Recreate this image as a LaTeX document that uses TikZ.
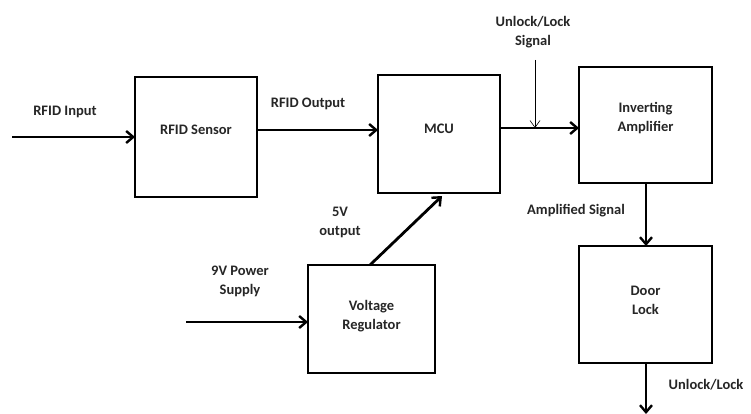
\documentclass[tikz,border=0pt]{standalone}
\usepackage{fontspec}
\setmainfont{Carlito}
\usetikzlibrary{arrows.meta}
\begin{document}
\begin{tikzpicture}[x=1pt,y=-1pt,
  blk/.style={draw,line width=2.8pt},
  conn/.style={line width=2.8pt,-{Straight Barb[length=7pt,width=12pt,line width=2.4pt]}},
  thin/.style={line width=0.6pt,-{Straight Barb[length=7pt,width=10pt]}},
  lbl/.style={font=\bfseries\fontsize{14.5}{19}\selectfont,align=center,text=black!85}]
\useasboundingbox (0,0) rectangle (751,414);
\fill[white] (0,0) rectangle (751,414);
% boxes
\draw[blk] (135,77) rectangle (257,197);
\node[lbl] (rfid) at (196,130) {RFID Sensor};
\draw[blk] (378,75) rectangle (500,193);
\node[lbl] (mcu) at (439,129) {MCU};
\draw[blk] (579,67) rectangle (712,183);
\node[lbl] (amp) at (645.5,118) {Inverting\\Amplifier};
\draw[blk] (308,265) rectangle (435,373);
\node[lbl] (reg) at (371.5,316) {Voltage\\Regulator};
\draw[blk] (579,246) rectangle (712,363);
\node[lbl] (door) at (645.5,300) {Door\\Lock};
% coordinates
\coordinate (rfidW) at (135,137);
\coordinate (in) at (12,137);
\coordinate (rfidE) at (257,130);
\coordinate (mcuW) at (378,130);
\coordinate (mcuE) at (500,128);
\coordinate (ampW) at (579,128);
\coordinate (sigTop) at (535,60);
\coordinate (sigBot) at (535,128);
\coordinate (ampS) at (646,183);
\coordinate (doorN) at (646,246);
\coordinate (doorS) at (646,363);
\coordinate (out) at (646,414);
\coordinate (pwr) at (186,322);
\coordinate (regW) at (308,322);
\coordinate (regN) at (370,265);
\coordinate (mcuS) at (442,196);
% connectors
\draw[conn] (in) -- (rfidW);
\draw[conn] (rfidE) -- (mcuW);
\draw[conn] (mcuE) -- (ampW);
\draw[thin] (sigTop) -- (sigBot);
\draw[conn] (ampS) -- (doorN);
\draw[conn] (doorS) -- (out);
\draw[conn] (pwr) -- (regW);
\draw[conn] (regN) -- (mcuS);
% labels
\node[lbl] (l1) at (65,112) {RFID Input};
\node[lbl] (l2) at (308,104) {RFID Output};
\node[lbl] (l3) at (533,32) {Unlock/Lock\\Signal};
\node[lbl] (l4) at (576,211) {Amplified Signal};
\node[lbl] (l5) at (706,385) {Unlock/Lock};
\node[lbl] (l6) at (240,281) {9V Power\\Supply};
\node[lbl] (l7) at (340,222) {5V\\output};
\end{tikzpicture}
\end{document}
